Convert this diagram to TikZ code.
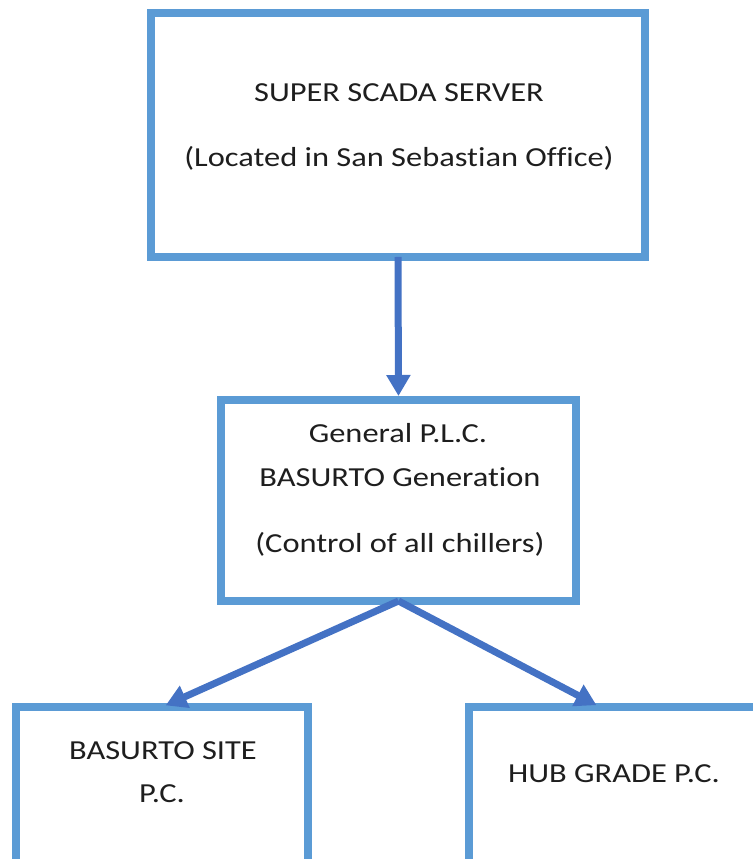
\documentclass[tikz,border=0pt]{standalone}
\usepackage{fontspec}
\setmainfont{Carlito}[FakeStretch=1.18, RawFeature=-liga]
\usetikzlibrary{arrows.meta}
\definecolor{boxblue}{HTML}{5B9BD5}
\definecolor{linkblue}{HTML}{4472C4}
\definecolor{ink}{HTML}{1E1E1E}
\begin{document}
\begin{tikzpicture}[x=1pt,y=1pt,
  unit/.style={draw=boxblue, line width=8pt, fill=white, inner sep=0pt, outer sep=0pt},
  link/.style={draw=linkblue, line width=7pt, -{Triangle[width=23pt,length=21pt]}, shorten >=4pt},
  label/.style={anchor=base, text=ink, font=\fontsize{27.5}{32}\selectfont, inner sep=0pt}]
\useasboundingbox (0,0) rectangle (752,859);

% boxes
\node[unit, minimum width=494pt, minimum height=244pt] (server) at (398,724) {};
\node[unit, minimum width=355pt, minimum height=201pt] (plc) at (398.5,358.5) {};
\node[unit, minimum width=292pt, minimum height=193pt] (site) at (162,55.5) {};
\node[unit, minimum width=292pt, minimum height=193pt] (hub) at (615,55.5) {};
\coordinate (hubin) at (600,152);

% connectors
\draw[link] (server.south) -- (plc.north);
\draw[link] (plc.south) -- (site.north);
\draw[link] (plc.south) -- (hubin);

% texts
\node[label] (t1) at (399,757) {SUPER SCADA SERVER};
\node[label] (t2) at (399,692) {(Located in San Sebastian Office)};
\node[label] (t3) at (398,416) {General P.L.C.};
\node[label] (t4) at (400,372) {BASURTO Generation};
\node[label] (t5) at (400,306) {(Control of all chillers)};
\node[label] (t6) at (163,99) {BASURTO SITE};
\node[label] (t7) at (162,56) {P.C.};
\node[label] (t8) at (614,76) {HUB GRADE P.C.};
\end{tikzpicture}
\end{document}
